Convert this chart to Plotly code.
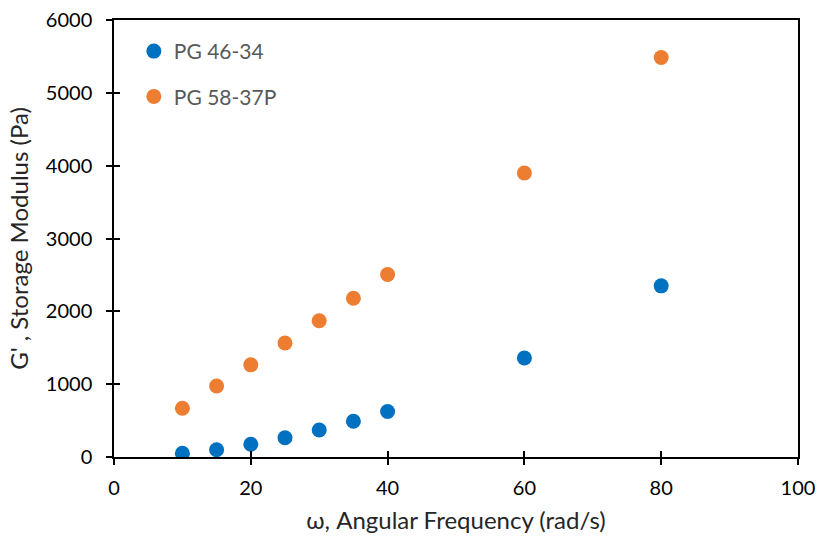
import plotly.graph_objects as go

freq = [10, 15, 20, 25, 30, 35, 40, 60, 80]
pg4634 = [50, 100, 175, 265, 370, 490, 625, 1360, 2350]
pg5837p = [670, 975, 1265, 1565, 1870, 2180, 2505, 3900, 5485]

FONT = "Lato, 'Open Sans', sans-serif"

fig = go.Figure()
fig.add_trace(go.Scatter(x=freq, y=pg4634, mode="markers", name="PG 46-34",
                         legendgroup="a",
                         marker=dict(color="#0070C0", size=15)))
fig.add_trace(go.Scatter(x=freq, y=pg5837p, mode="markers", name="PG 58-37P",
                         legendgroup="b",
                         marker=dict(color="#ED7D31", size=15)))
# invisible trace to anchor the inside-tick overlay axes
fig.add_trace(go.Scatter(x=[None], y=[None], xaxis="x2", yaxis="y2",
                         showlegend=False, hoverinfo="skip"))

axis_common = dict(showgrid=False, zeroline=False, linecolor="black", linewidth=1.5,
                   tickcolor="black", tickwidth=1.5, ticklen=6, automargin=False,
                   tickfont=dict(family=FONT, size=20, color="black"))

fig.update_layout(
    width=820, height=544,
    margin=dict(l=114, r=22, t=20, b=87),
    paper_bgcolor="white", plot_bgcolor="white",
    font=dict(family=FONT),
    xaxis=dict(range=[0, 100], dtick=20, ticks="outside", mirror=True, showline=True,
               ticklabelstandoff=6,
               title=dict(text="ω, Angular Frequency (rad/s)",
                          font=dict(family=FONT, size=24, color="#262626"), standoff=14),
               **axis_common),
    yaxis=dict(range=[0, 6000], dtick=1000, ticks="outside", mirror=True, showline=True,
               ticklabelstandoff=10,
               title=dict(text="G' , Storage Modulus (Pa)",
                          font=dict(family=FONT, size=24, color="#262626"), standoff=10),
               **axis_common),
    xaxis2=dict(overlaying="x", matches="x", anchor="y2", range=[0, 100], dtick=20,
                ticks="inside", showticklabels=False, showline=False, showgrid=False,
                zeroline=False, tickcolor="black", tickwidth=1.5, ticklen=6,
                automargin=False),
    yaxis2=dict(overlaying="y", matches="y", anchor="x2", range=[0, 6000], dtick=1000,
                ticks="inside", showticklabels=False, showline=False, showgrid=False,
                zeroline=False, tickcolor="black", tickwidth=1.5, ticklen=6,
                automargin=False),
    legend=dict(x=0.029, y=0.975, xanchor="left", yanchor="top",
                bgcolor="rgba(0,0,0,0)", traceorder="grouped", tracegroupgap=15,
                font=dict(family=FONT, size=21, color="#595959"),
                itemwidth=30),
)

fig.write_html("out.html")
